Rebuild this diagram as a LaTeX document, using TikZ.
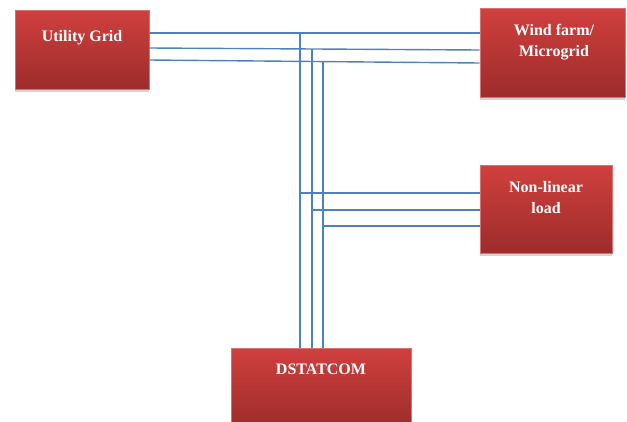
\documentclass[tikz,border=0pt]{standalone}
\usepackage{fontspec}
\setmainfont{Liberation Serif}
\usetikzlibrary{shadows}
\definecolor{boxtop}{RGB}{208,64,62}
\definecolor{boxbottom}{RGB}{156,44,43}
\definecolor{busblue}{RGB}{79,129,189}
\tikzstyle{unit}=[rectangle, draw=boxtop!75!white, line width=0.6pt, top color=boxtop, bottom color=boxbottom, drop shadow={shadow xshift=0pt, shadow yshift=-3pt, opacity=0.35}, inner sep=0pt]
\tikzstyle{unitname}=[anchor=center, text=white, font=\bfseries\fontsize{16}{21}\selectfont, align=center]
\tikzstyle{bus}=[draw, busblue, line width=1.4pt]

\begin{document}
\begin{tikzpicture}[x=1pt, y=-1pt]
    \useasboundingbox (0,0) rectangle (627,421);
    \clip (0,0) rectangle (627,421);
    % First we draw the units
    \node[unit, minimum width=134pt, minimum height=79pt,
          label={[unitname, yshift=-27.5pt]north:Utility Grid}] (grid) at (82,49.5) {};
    \node[unit, minimum width=145pt, minimum height=89pt,
          label={[unitname, xshift=1.5pt, yshift=-34.5pt]north:Wind farm/\\Microgrid}] (wind) at (552.5,52.5) {};
    \node[unit, minimum width=132pt, minimum height=88pt,
          label={[unitname, yshift=-32.5pt]north:Non-linear\\load}] (load) at (546,209) {};
    \node[unit, minimum width=180pt, minimum height=80pt,
          label={[unitname, yshift=-21.5pt]north:DSTATCOM}] (dstatcom) at (321,388) {};

    % three phase lines from grid to wind farm
    \draw[bus] (grid.east |- 0,33) -- (wind.west |- 0,33);
    \draw[bus] (grid.east |- 0,48) -- (wind.west |- 0,50);
    \draw[bus] (grid.east |- 0,60) -- (wind.west |- 0,63);

    % taps down to the DSTATCOM and across to the load
    \foreach \x/\ytop/\ybr/\n in {300/33/193/a, 312/49/210/b, 323/61.6/226/c}
    {
        \coordinate (tap\n) at (\x,\ytop);
        \draw[bus] (dstatcom.north -| tap\n) -- (tap\n);
        \draw[bus] (load.west |- 0,\ybr) -- (tap\n |- 0,\ybr);
    }
\end{tikzpicture}
\end{document}
